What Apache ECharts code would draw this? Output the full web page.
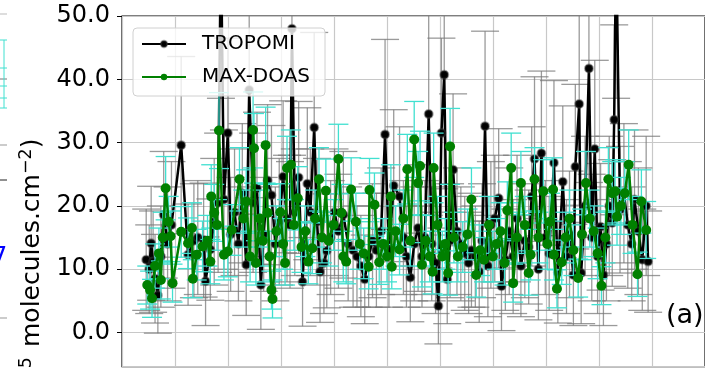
<!DOCTYPE html>
<html><head><meta charset="utf-8">
<script src="https://cdn.jsdelivr.net/npm/echarts@6/dist/echarts.min.js"></script>
<style>html,body{margin:0;padding:0;background:#fff;}#c{width:705px;height:368px;}</style>
</head><body><div id="c"></div>
<script>
// x: day index (grid every 30 days), y: NO2 VCD (10^15 molecules.cm^-2)
const seriesNames = ['TROPOMI', 'MAX-DOAS'];
const yTickFormat = 1; // decimals

const tropDay = [13.7,15.4,16.5,17.6,18.7,20.3,22.0,23.6,25.8,28.0,
33.5,37.4,40.7,42.9,46.2,47.3,50.0,52.2,54.4,56.0,
57.7,59.9,61.5,63.7,65.9,68.1,70.3,72.0,74.2,76.4,
78.6,80.2,82.4,84.6,86.8,89.0,91.2,93.4,95.1,96.2,
97.8,100.0,102.2,104.9,106.6,108.8,110.4,112.1,114.3,115.9,
118.1,120.3,122.5,125.3,128.0,130.8,133.0,135.2,137.4,139.6,
141.8,144.0,146.7,148.9,151.1,153.8,157.1,159.3,161.0,163.2,
165.4,167.6,169.8,171.4,173.6,175.3,177.5,179.1,180.8,182.4,
184.1,185.7,187.4,189.6,191.8,194.0,196.2,197.8,200.0,202.2,
203.8,205.5,207.1,208.8,211.0,213.2,214.8,217.0,219.2,221.4,
223.6,225.8,228.0,230.2,231.9,233.5,235.7,237.4,239.6,241.8,
244.5,246.7,249.5,251.6,253.3,255.5,256.6,258.8,259.9,262.1,
264.3,265.9,267.6,269.2,270.9,272.5,274.2,275.8,277.5,278.6,
279.7,281.9,284.1,286.3,288.5,290.1,292.3,294.5,296.7,297.8];
const tropVal = [11.5,10.0,14.1,11.2,8.5,5.9,12.0,18.6,14.0,17.0,
29.6,12.3,14.5,15.0,14.6,8.1,13.1,17.5,20.5,62,
21,31.5,15.5,19.0,14.0,22.0,10.7,38.3,20.5,22.8,
7.5,15.5,24.0,21.7,14.0,17.5,24.6,18.0,17.0,48.0,
19.0,24.5,8.0,23.5,19.0,32.4,17.5,9.6,11.0,12.9,
15.0,19.0,16.0,18.6,14.0,13.0,12.0,10.5,8.4,12.0,
14.5,13.0,16.0,31.3,13.0,23.2,21.5,15.0,12.0,8.7,
14.0,16.5,12.0,15.0,34.5,14.0,11.0,4.2,31.5,40.7,
8.4,14.5,25.7,16.0,14.0,12.5,11.0,13.0,12.0,9.6,
14.5,32.6,10.5,17.0,18.0,21.2,7.3,11.5,16.0,12.0,
18.0,10.5,14.5,13.5,21.5,27.4,10.0,28.3,15.0,12.5,
26.8,9.5,23.8,12.0,15.5,9.1,26.2,36.1,9.4,20.0,
41.7,15.0,29.0,12.0,16.7,9.1,14.0,20.0,17.3,33.6,
62,19.4,22.0,17.0,14.0,21.0,16.0,11.5,20.0,11.2];
const tropErr = [8,7,9,8,7,6,8,10,9,10,
14,8,9,9,9,7,8,10,11,25,
11,15,9,10,9,11,8,17,11,12,
7,9,12,11,9,10,12,10,10,20,
10,12,7,12,10,15,10,8,8,9,
9,10,9,10,9,9,8,8,7,8,
9,9,10,15,9,12,11,9,8,7,
9,10,8,9,16,9,8,6,15,18,
7,9,12,10,9,9,8,9,8,8,
9,15,8,10,10,11,7,8,10,9,
10,8,9,9,11,13,8,13,9,9,
13,8,12,9,10,8,13,16,8,11,
18,10,14,9,10,8,9,11,10,15,
25,10,11,10,9,11,10,8,11,8];

const doasDay = [14.3,15.9,17.0,18.7,20.9,22.0,23.1,24.7,26.4,27.5,
28.6,33.5,37.4,39.6,40.1,42.3,45.6,48.4,50.0,50.5,
52.2,53.8,54.9,57.7,59.9,62.1,66.5,68.7,70.3,72.5,
74.2,74.7,75.8,78.0,79.7,81.3,82.4,83.5,84.6,85.2,
87.4,89.6,91.2,92.3,93.4,95.6,97.3,99.5,101.6,103.8,
105.5,107.7,109.3,111.5,113.2,115.4,117.0,119.8,122.5,124.2,
125.3,126.9,129.7,132.4,134.6,136.8,139.6,140.1,142.9,145.6,
147.8,150.0,152.2,152.7,154.9,157.1,159.3,161.5,163.2,165.4,
167.6,168.7,169.8,172.0,174.2,175.8,176.4,178.6,181.3,183.0,
184.6,185.7,187.9,190.1,192.9,195.6,197.8,200.5,202.7,204.9,
207.7,209.9,212.1,214.3,216.5,218.1,220.3,221.4,223.6,225.8,
228.0,230.2,231.3,233.5,235.7,238.5,240.7,242.3,244.0,244.5,
246.2,248.9,251.1,253.3,255.5,258.2,260.4,262.6,264.8,267.0,
269.2,271.4,273.6,275.3,277.5,279.1,280.2,282.4,284.6,286.8,
289.0,291.8,294.0,296.7];
const doasVal = [7.5,6.7,5.4,10.5,12.5,8.3,15.0,22.8,17.5,15.2,
7.8,15.9,14.1,16.5,8.5,12.3,13.6,14.5,11.2,21.5,
18.9,17.0,31.9,12.3,12.8,16.2,24.2,18.0,20.7,12.0,
32.0,29.1,11.0,18.0,14.5,29.6,18.9,12.0,6.7,5.3,
16.0,19.0,14.0,11.0,26.0,26.5,17.0,21.2,13.5,16.0,
11.2,13.3,18.0,24.2,15.0,22.4,14.5,17.0,27.4,18.9,
12.0,11.2,22.6,17.5,14.0,12.5,10.4,22.5,20.2,11.1,
14.0,12.0,21.5,10.4,16.0,13.1,18.0,25.8,14.5,30.5,
23.6,26.3,10.7,14.5,12.0,9.6,26.0,17.0,12.0,14.0,
9.4,29.4,15.0,12.0,13.5,15.5,21.0,9.1,13.0,11.5,
17.0,12.0,14.0,16.0,11.0,19.3,26.0,7.8,15.0,23.6,
17.0,9.4,12.3,24.2,15.0,22.3,14.0,17.5,22.6,12.3,
6.9,11.1,15.0,18.0,13.0,8.6,15.5,23.6,18.0,16.0,
12.5,7.4,15.0,24.2,22.0,22.3,18.3,20.0,22.0,26.5,
17.0,9.2,20.7,16.2];
const doasErr = [3,3,3,3.5,4,3,4,5,4,4,
3,4,4,4,3,4,4,4,3.5,5,
4.5,4,6,4,4,4,5,4.5,5,4,
6,5.5,3.5,4.5,4,6,4.5,4,3,3,
4,4.5,4,3.5,5,5.5,4,5,4,4,
3.5,4,4.5,5,4,5,4,4,5.5,4.5,
4,3.5,5,4.5,4,4,3.5,5,5,3.5,
4,4,5,3.5,4,4,4.5,5.5,4,6,
5,5.5,3.5,4,4,3.5,5.5,4.5,4,4,
3.5,6,4,4,4,4,5,3.5,4,3.5,
4.5,4,4,4.5,3.5,4.5,5.5,3,4,5,
4.5,3.5,4,5,4,5,4,4.5,5,4,
3,3.5,4,4.5,4,3,4,5,4.5,4,
4,3,4,5,5,5,4.5,4.5,5,5.5,
4.5,3.5,5,4.5];

const FONT = 'DejaVu Sans';
const tropData = tropDay.map((d, i) => [d, tropVal[i], tropErr[i]]);
const doasData = doasDay.map((d, i) => [d, doasVal[i], doasErr[i]]);

function errRender(color, capHalf, width) {
  return function (params, api) {
    const cs = params.coordSys;
    const x = api.value(0), y = api.value(1), e = api.value(2);
    const lo = api.coord([x, y - e]);
    const hi = api.coord([x, y + e]);
    const top = Math.max(hi[1], cs.y), bot = Math.min(lo[1], cs.y + cs.height);
    const style = { stroke: color, lineWidth: width };
    const children = [];
    if (bot > top) children.push({ type: 'line', shape: { x1: lo[0], y1: top, x2: lo[0], y2: bot }, style });
    if (hi[1] >= cs.y) children.push({ type: 'line', shape: { x1: hi[0] - capHalf, y1: hi[1], x2: hi[0] + capHalf, y2: hi[1] }, style });
    if (lo[1] <= cs.y + cs.height) children.push({ type: 'line', shape: { x1: lo[0] - capHalf, y1: lo[1], x2: lo[0] + capHalf, y2: lo[1] }, style });
    return { type: 'group', children };
  };
}

const richLabel = {
  n: { fontSize: 25, fontFamily: FONT, fill: '#000', lineHeight: 27, verticalAlign: 'bottom' },
  s: { fontSize: 17.5, fontFamily: FONT, fill: '#000', lineHeight: 17.5, verticalAlign: 'top' }
};

const chart = echarts.init(document.getElementById('c'), null, { renderer: 'canvas' });
chart.setOption({
  animation: false,
  textStyle: { fontFamily: FONT },
  grid: { left: 122, top: 16, width: 600.6, height: 350.7, show: true, borderColor: '#000', borderWidth: 1.2, backgroundColor: 'transparent' },
  xAxis: {
    type: 'value', min: 0, max: 330, interval: 30,
    axisLine: { show: false }, axisTick: { show: false }, axisLabel: { show: false },
    splitLine: { show: true, lineStyle: { color: '#c8c8c8', width: 1.2 } }
  },
  yAxis: {
    type: 'value', min: -5.4, max: 50, splitNumber: 5,
    axisLine: { show: false },
    axisTick: { show: true, length: 5, lineStyle: { color: '#000', width: 1 } },
    axisLabel: { showMinLabel: false, fontSize: 24, color: '#000', margin: 12, fontFamily: FONT,
      formatter: v => v.toFixed(yTickFormat) },
    splitLine: { show: true, lineStyle: { color: '#c8c8c8', width: 1.2 } }
  },
  legend: {
    data: seriesNames, orient: 'vertical', left: 133, top: 28, z: 20,
    backgroundColor: 'rgba(255,255,255,0.8)', borderColor: '#d0d0d0', borderWidth: 1, borderRadius: 4,
    padding: [6, 15, 9, 8], itemGap: 13, itemWidth: 44, itemHeight: 8,
    textStyle: { fontSize: 20, color: '#000', fontFamily: FONT, padding: [0, 0, 0, 11] }
  },
  graphic: [
    { type: 'text', left: 666, top: 302, style: { text: '(a)', fontSize: 27, fontFamily: FONT, fill: '#000' }, z: 100 },
    { type: 'text', x: 31, y: 347, rotation: Math.PI / 2,
      style: { text: '{n|molecules.cm}{s|−2}{n|)}', align: 'left', verticalAlign: 'middle', rich: richLabel } },
    { type: 'text', x: 31, y: 357, rotation: Math.PI / 2,
      style: { text: '{n|(10}{s|15}', align: 'right', verticalAlign: 'middle', rich: richLabel } },
    { type: 'text', x: -8, y: 246, style: { text: '7', fontSize: 24, fontFamily: FONT, fill: '#0000ff' } },
    { type: 'line', shape: { x1: 0, y1: 14, x2: 7, y2: 14 }, style: { stroke: '#bbbbbb', lineWidth: 1 } },
    { type: 'line', shape: { x1: 0, y1: 79, x2: 7, y2: 79 }, style: { stroke: '#777777', lineWidth: 1 } },
    { type: 'line', shape: { x1: 0, y1: 145, x2: 7, y2: 145 }, style: { stroke: '#999999', lineWidth: 1 } },
    { type: 'line', shape: { x1: 0, y1: 180, x2: 7, y2: 180 }, style: { stroke: '#222222', lineWidth: 1 } },
    { type: 'line', shape: { x1: 0, y1: 318, x2: 7, y2: 318 }, style: { stroke: '#999999', lineWidth: 1 } },
    { type: 'line', shape: { x1: 4, y1: 40, x2: 4, y2: 108 }, style: { stroke: '#40e0d0', lineWidth: 1 } },
    { type: 'line', shape: { x1: 0, y1: 40, x2: 7, y2: 40 }, style: { stroke: '#40e0d0', lineWidth: 1 } },
    { type: 'line', shape: { x1: 0, y1: 68, x2: 7, y2: 68 }, style: { stroke: '#40e0d0', lineWidth: 1 } },
    { type: 'line', shape: { x1: 0, y1: 86, x2: 7, y2: 86 }, style: { stroke: '#40e0d0', lineWidth: 1 } },
    { type: 'line', shape: { x1: 0, y1: 98, x2: 7, y2: 98 }, style: { stroke: '#40e0d0', lineWidth: 1 } },
    { type: 'line', shape: { x1: 0, y1: 108, x2: 7, y2: 108 }, style: { stroke: '#40e0d0', lineWidth: 1 } }
  ],
  series: [
    { type: 'custom', name: 'TROPOMI err', data: tropData, z: 1, silent: true,
      encode: { x: 0, y: 1 }, renderItem: errRender('rgba(120,120,120,0.75)', 14, 1.3) },
    { type: 'line', name: 'TROPOMI', data: tropData.map(d => [d[0], d[1]]), z: 2,
      symbol: 'circle', symbolSize: 8, showAllSymbol: true,
      lineStyle: { color: '#000', width: 2.5 },
      itemStyle: { color: '#000', borderColor: 'rgba(60,60,60,0.45)', borderWidth: 2 } },
    { type: 'custom', name: 'MAX-DOAS err', data: doasData, z: 3, silent: true,
      encode: { x: 0, y: 1 }, renderItem: errRender('#40e0d0', 10, 1.3) },
    { type: 'line', name: 'MAX-DOAS', data: doasData.map(d => [d[0], d[1]]), z: 4,
      symbol: 'circle', symbolSize: 10, showAllSymbol: true,
      lineStyle: { color: '#008000', width: 2.5 },
      itemStyle: { color: '#008000' } }
  ]
});
</script></body></html>
